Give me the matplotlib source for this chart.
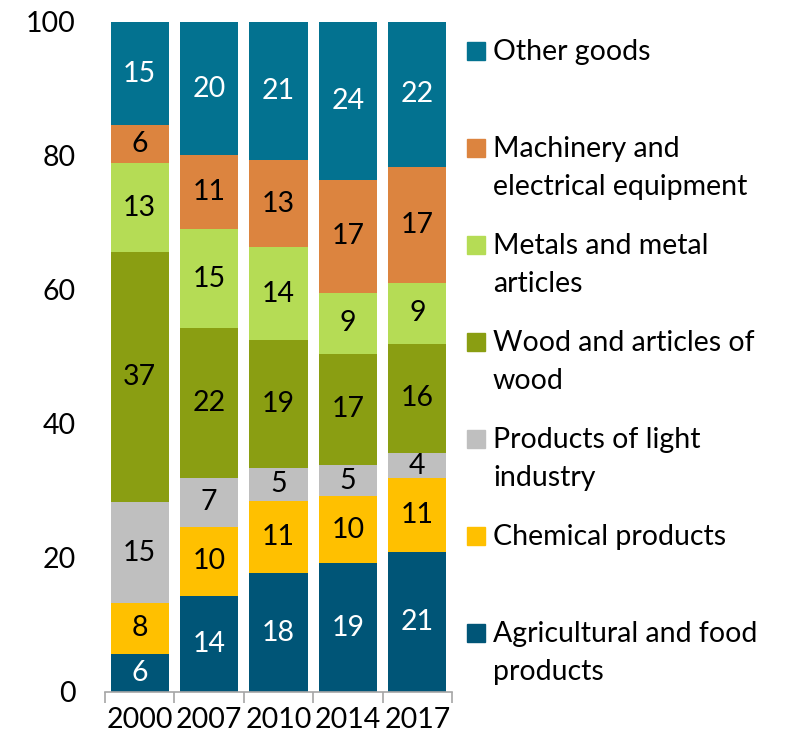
import numpy as np
import matplotlib
matplotlib.use("Agg")
import matplotlib.pyplot as plt
from matplotlib.patches import Rectangle

plt.rcParams['font.family'] = ['Lato', 'DejaVu Sans']

years = ["2000", "2007", "2010", "2014", "2017"]

# shares of exports by product group, % (bottom to top of each bar)
agri = [5.7, 14.3, 17.7, 19.2, 20.9]
chemical = [7.6, 10.4, 10.8, 10.0, 11.0]
light = [15.0, 7.2, 5.0, 4.7, 3.8]
wood = [37.3, 22.4, 19.0, 16.6, 16.3]
metals = [13.4, 14.8, 13.9, 9.1, 9.0]
machinery = [5.6, 11.0, 13.0, 16.8, 17.4]
other = [15.4, 19.9, 20.6, 23.6, 21.6]

series = [
    ("Agricultural and food\nproducts", agri, "#005577", "white"),
    ("Chemical products", chemical, "#FFC000", "black"),
    ("Products of light\nindustry", light, "#BFBFBF", "black"),
    ("Wood and articles of\nwood", wood, "#8A9E12", "black"),
    ("Metals and metal\narticles", metals, "#B5DC55", "black"),
    ("Machinery and\nelectrical equipment", machinery, "#DC843F", "black"),
    ("Other goods", other, "#037290", "white"),
]

FS = 20.5
W, H = 790, 736
fig = plt.figure(figsize=(W / 100, H / 100), dpi=100)
ax = fig.add_axes([105 / W, 1 - 692 / H, (452 - 105) / W, (692 - 22) / H])

x = np.arange(len(years))
bottom = np.zeros(len(years))
for name, vals, color, tcol in series:
    vals = np.array(vals)
    ax.bar(x, vals, bottom=bottom, width=0.837, color=color, edgecolor="none")
    for xi, b, v in zip(x, bottom, vals):
        ax.text(xi, b + v / 2, f"{v:.0f}", ha="center", va="center",
                fontsize=FS, color=tcol)
    bottom += vals

ax.set_xlim(-0.5, len(years) - 0.5)
ax.set_ylim(0, 100)
ax.set_yticks([0, 20, 40, 60, 80, 100])
ax.tick_params(axis="y", length=0, pad=21, labelsize=FS, colors="#000000")
ax.set_xticks(x)
ax.set_xticklabels(years)
ax.set_xticks(np.arange(-0.5, len(years)), minor=True)
ax.tick_params(axis="x", which="major", length=0, pad=11, labelsize=FS)
ax.tick_params(axis="x", which="minor", length=8, width=1.2, color="#A6A6A6")
for s in ["top", "right", "left"]:
    ax.spines[s].set_visible(False)
ax.spines["bottom"].set_color("#A6A6A6")
ax.spines["bottom"].set_linewidth(1.2)

# legend drawn by hand, top entry first, one slot every 97 px,
# each label line placed on its own baseline 38 px apart
for i, (name, vals, color, tcol) in enumerate(reversed(series)):
    yb = 60 + 97 * i
    fig.patches.append(Rectangle((467 / W, 1 - yb / H), 18 / W, 18 / H,
                                 transform=fig.transFigure, color=color))
    for k, line in enumerate(name.split("\n")):
        fig.text(493 / W, 1 - (yb + 38 * k) / H, line, ha="left",
                 va="baseline", fontsize=FS)

fig.savefig("out.png", dpi=100)
